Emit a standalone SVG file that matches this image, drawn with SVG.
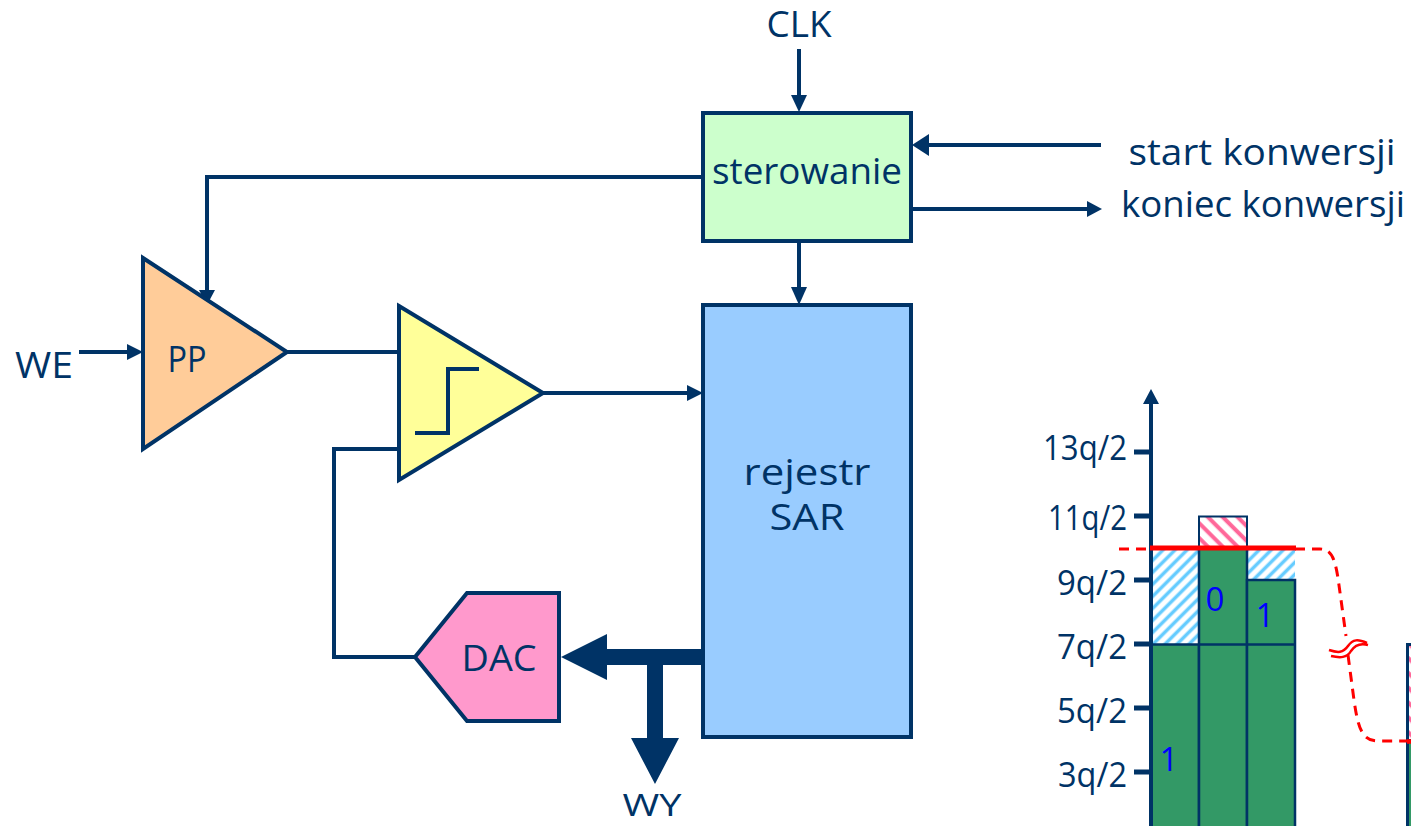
<svg xmlns="http://www.w3.org/2000/svg" width="1411" height="826" viewBox="0 0 1411 826">
<style>
text{font-family:"Open Sans","Noto Sans","DejaVu Sans",sans-serif;fill:#003366;font-size:36px;text-anchor:middle}
.bit{fill:#0000FF;font-size:33px}
.ax{text-anchor:end;font-size:34px}
.sh{stroke:#003366;stroke-width:4;stroke-linejoin:miter}
.ln{fill:none;stroke:#003366;stroke-width:4}
.tick{fill:none;stroke:#003366;stroke-width:5}
.bar{fill:#339966;stroke:#003366;stroke-width:2.5}
.thin{fill:none;stroke:#003366;stroke-width:2.5}
.head{fill:#003366;stroke:none}
.dash{fill:none;stroke:#FF0000;stroke-width:3;stroke-dasharray:10 7}
</style>
<defs>
<pattern id="blue" width="8.500" height="8.500" patternUnits="userSpaceOnUse" patternTransform="rotate(-45)"><rect width="8.500" height="8.500" fill="#fff"/><rect width="8.500" height="3.500" y="2.500" fill="#66CCFF"/></pattern>
<pattern id="pink" width="10.500" height="10.500" patternUnits="userSpaceOnUse" patternTransform="rotate(45)"><rect width="10.500" height="10.500" fill="#fff"/><rect width="10.500" height="4" y="3" fill="#FF6699"/></pattern>
</defs>
<g id="connectors">
<path class="ln" d="M799 49V95"/><path class="head" d="M791 95H807L799 112Z"/>
<path class="ln" d="M1101 145H928"/><path class="head" d="M929 134V156L912 145Z"/>
<path class="ln" d="M911 209H1087"/><path class="head" d="M1087 201V217L1102 209Z"/>
<path class="ln" d="M799 241V287"/><path class="head" d="M791 287H807L799 305Z"/>
<path class="ln" d="M703 177H207V290"/><path class="head" d="M199 290H215L207 305Z"/>
<path class="ln" d="M79 352H128"/><path class="head" d="M127 344V360L143 352Z"/>
<path class="ln" d="M287 352H399"/>
<path class="ln" d="M543 393H688"/><path class="head" d="M687 385V401L703 393Z"/>
<path class="ln" d="M399 449H334V657H415"/>
<path class="head" d="M703 649V665H663V738H679L655 784L631 738H647V665H607V680L561 657L607 634V649Z"/>
</g>
<g id="chart">
<rect x="1151" y="548" width="48" height="96" fill="url(#blue)"/>
<rect x="1199" y="516.500" width="48" height="32" fill="url(#pink)" stroke="#003366" stroke-width="2"/>
<rect x="1247" y="548" width="48" height="32" fill="url(#blue)"/>
<rect class="bar" x="1151" y="644.500" width="48" height="190"/>
<rect class="bar" x="1199" y="548" width="48" height="286"/>
<rect class="bar" x="1247" y="580" width="48" height="254"/>
<path class="thin" d="M1199 644.500H1295"/>
<rect x="1407.500" y="644.500" width="10" height="96" fill="url(#pink)" stroke="#003366" stroke-width="3"/>
<rect x="1407.500" y="741" width="10" height="90" fill="#339966" stroke="#003366" stroke-width="3"/>
<path class="ln" d="M1151 826V400"/><path class="head" d="M1143 404H1159L1151 389Z"/>
<path class="tick" d="M1134 452H1151M1134 516H1151M1134 580H1151M1134 644H1151M1134 708H1151M1134 772H1151"/>
<path d="M1119 549H1151" class="dash"/>
<path d="M1295 549H1320C1332 549 1335 560 1338 578L1346 636M1348 655L1354 700C1358 728 1362 741 1378 741H1408" class="dash"/>
<path d="M1329 650C1338 653 1343 653 1348 646C1353 639 1358 639 1367 643M1331 656C1340 658 1347 658 1351 651C1355 645 1361 643 1368 645" fill="none" stroke="#FF0000" stroke-width="2.500"/>
<path d="M1150 548H1296" stroke="#FF0000" stroke-width="5" fill="none"/>
<path d="M1407 741.500H1411" stroke="#FF0000" stroke-width="4.500" fill="none"/>
<text class="ax" x="1127" y="460" textLength="84" lengthAdjust="spacingAndGlyphs">13q/2</text>
<text class="ax" x="1127" y="530" textLength="79" lengthAdjust="spacingAndGlyphs">11q/2</text>
<text class="ax" x="1127" y="595" textLength="70" lengthAdjust="spacingAndGlyphs">9q/2</text>
<text class="ax" x="1127" y="659" textLength="70" lengthAdjust="spacingAndGlyphs">7q/2</text>
<text class="ax" x="1127" y="723" textLength="70" lengthAdjust="spacingAndGlyphs">5q/2</text>
<text class="ax" x="1127" y="787" textLength="69" lengthAdjust="spacingAndGlyphs">3q/2</text>
<text class="bit" x="1215" y="611">0</text>
<text class="bit" x="1265" y="627">1</text>
<text class="bit" x="1169" y="771">1</text>
</g>
<g id="sterowanie"><rect class="sh" x="703" y="113" width="208" height="128" fill="#CCFFCC"/><text x="807" y="184" textLength="190" lengthAdjust="spacingAndGlyphs">sterowanie</text></g>
<g id="sar"><rect class="sh" x="703" y="305" width="208" height="432" fill="#99CCFF"/><text x="807" y="485" textLength="127" lengthAdjust="spacingAndGlyphs">rejestr</text><text x="807" y="530" textLength="75" lengthAdjust="spacingAndGlyphs">SAR</text></g>
<g id="pp"><path class="sh" d="M143 258L287 352L143 449Z" fill="#FFCC99"/><text x="187" y="372" textLength="39" lengthAdjust="spacingAndGlyphs">PP</text></g>
<g id="comparator"><path class="sh" d="M399 306L543 393L399 480Z" fill="#FFFF99"/><path class="ln" d="M415 433H448V369H479"/></g>
<g id="dac"><path class="sh" d="M415 657L467 593H559V721H467Z" fill="#FF99CC"/><text x="499" y="671" textLength="75" lengthAdjust="spacingAndGlyphs">DAC</text></g>
<g id="labels">
<text x="799" y="37" textLength="65" lengthAdjust="spacingAndGlyphs">CLK</text>
<text x="1262" y="165" textLength="267" lengthAdjust="spacingAndGlyphs">start konwersji</text>
<text x="1263" y="217" textLength="284" lengthAdjust="spacingAndGlyphs">koniec konwersji</text>
<text x="44" y="378" textLength="58" lengthAdjust="spacingAndGlyphs">WE</text>
<text x="652" y="816" style="font-size:31px" textLength="59" lengthAdjust="spacingAndGlyphs">WY</text>
</g>
</svg>
